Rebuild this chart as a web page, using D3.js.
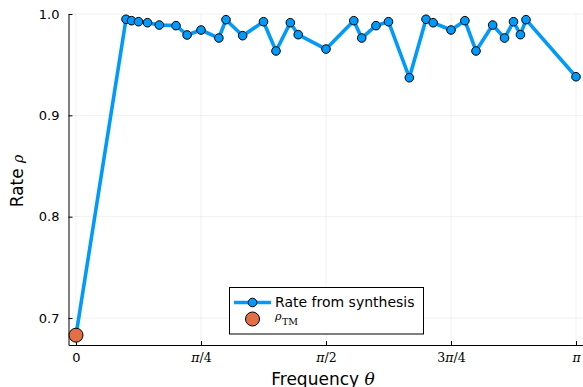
<!DOCTYPE html>
<html>
<head>
<meta charset="utf-8">
<script src="https://cdn.jsdelivr.net/npm/d3@7"></script>
<style>
html,body{margin:0;padding:0;background:#fff;}
svg{display:block;}
</style>
</head>
<body>
<svg id="chart" width="583" height="387"></svg>
<script>
// Frequency θ in units of π
const thetaOverPi = [0, 0.1, 0.1111, 0.125, 0.1429, 0.1667, 0.2, 0.2222, 0.25, 0.2857, 0.3, 0.3333, 0.375, 0.4, 0.4286, 0.4444, 0.5, 0.5556, 0.5714, 0.6, 0.625, 0.6667, 0.7, 0.7143, 0.75, 0.7778, 0.8, 0.8333, 0.8571, 0.875, 0.8889, 0.9, 1.0];
const rates = [0.6831, 0.9948, 0.9934, 0.9924, 0.9914, 0.9891, 0.9885, 0.9793, 0.9842, 0.9763, 0.9944, 0.9786, 0.9924, 0.9635, 0.9914, 0.9796, 0.9654, 0.9934, 0.9763, 0.9885, 0.9924, 0.9371, 0.9948, 0.9914, 0.9842, 0.9934, 0.9635, 0.9891, 0.9763, 0.9924, 0.9796, 0.9944, 0.9381];
const rhoTM = [{x: 0, y: 0.6831}];
const xTicks = [0, 0.25, 0.5, 0.75, 1];
const xTickLabels = [["0"], ["", "π", "/4"], ["", "π", "/2"], ["3", "π", "/4"], ["", "π", ""]];
const yTicks = [0.7, 0.8, 0.9, 1.0];
const yTickLabels = ["0.7", "0.8", "0.9", "1.0"];
const seriesNames = ["Rate from synthesis", "ρ", "TM"];

const BLUE = "#009AFA", ORANGE = "#E26F46";
const SANS = "DejaVu Sans, sans-serif";
const SERIF = "DejaVu Serif, Liberation Serif, serif";

const svg = d3.select("#chart");
const L = 68.5, R = 583, T = 14, B = 345;
const x = d3.scaleLinear().domain([-0.015, 1.014]).range([L, R]);
const y = d3.scaleLinear().domain([0.6734, 1.0]).range([B, T]);

// grid
const grid = svg.append("g");
grid.selectAll(".gx").data(xTicks).join("line")
  .attr("x1", d => x(d)).attr("x2", d => x(d)).attr("y1", T).attr("y2", B)
  .attr("stroke", "#000").attr("stroke-opacity", 0.1).attr("stroke-width", 0.6);
grid.selectAll(".gy").data(yTicks).join("line")
  .attr("x1", L).attr("x2", R).attr("y1", d => y(d)).attr("y2", d => y(d))
  .attr("stroke", "#000").attr("stroke-opacity", 0.1).attr("stroke-width", 0.6);

// axes
const yAxis = d3.axisLeft(y).tickValues(yTicks).tickFormat((d, i) => yTickLabels[i]).tickSizeInner(-4).tickSizeOuter(0).tickPadding(9);
const gy = svg.append("g").attr("transform", `translate(${L},0)`).call(yAxis);
gy.select(".domain").attr("stroke", "#000").attr("stroke-width", 1);
gy.selectAll(".tick line").attr("stroke", "#000");
gy.selectAll("text").attr("font-family", SANS).attr("font-size", 13).attr("fill", "#000");

const xAxis = d3.axisBottom(x).tickValues(xTicks).tickFormat(() => "").tickSizeInner(-4).tickSizeOuter(0).tickPadding(8);
const gx = svg.append("g").attr("transform", `translate(0,${B})`).call(xAxis);
gx.select(".domain").attr("stroke", "#000").attr("stroke-width", 1);
gx.selectAll(".tick line").attr("stroke", "#000");
gx.selectAll(".tick text").remove();
gx.selectAll(".tick").each(function(d, i) {
  const parts = xTickLabels[i];
  const t = d3.select(this).append("text").attr("y", 17).attr("text-anchor", "middle").attr("fill", "#000");
  if (parts.length === 1) {
    t.attr("font-family", SANS).attr("font-size", 13).text(parts[0]);
  } else {
    t.attr("font-family", SERIF).attr("font-size", 12.5);
    if (parts[0]) t.append("tspan").text(parts[0]);
    t.append("tspan").attr("font-style", "italic").text(parts[1]);
    if (parts[2]) t.append("tspan").text(parts[2]);
  }
});

// axis titles
const xt = svg.append("text").attr("x", 323).attr("y", 384.5).attr("text-anchor", "middle")
  .attr("font-family", SANS).attr("font-size", 17).attr("fill", "#000");
xt.append("tspan").text("Frequency ");
xt.append("tspan").attr("font-family", SERIF).attr("font-style", "italic").text("θ");

const yt = svg.append("text").attr("transform", "translate(23,181) rotate(-90)").attr("text-anchor", "middle")
  .attr("font-family", SANS).attr("font-size", 17).attr("fill", "#000");
yt.append("tspan").text("Rate ");
yt.append("tspan").attr("font-family", SERIF).attr("font-style", "italic").attr("font-size", 14).text("ρ");

// data line
const pts = thetaOverPi.map((t, i) => ({x: t, y: rates[i]}));
const line = d3.line().x(d => x(d.x)).y(d => y(d.y));
svg.append("path").datum(pts).attr("d", line).attr("fill", "none")
  .attr("stroke", BLUE).attr("stroke-width", 3.6).attr("stroke-linejoin", "round");
svg.selectAll(".pt").data(pts).join("circle")
  .attr("cx", d => x(d.x)).attr("cy", d => y(d.y)).attr("r", 4.3)
  .attr("fill", BLUE).attr("stroke", "#000").attr("stroke-width", 1);
svg.selectAll(".tm").data(rhoTM).join("circle")
  .attr("cx", d => x(d.x)).attr("cy", d => y(d.y)).attr("r", 7)
  .attr("fill", ORANGE).attr("stroke", "#000").attr("stroke-width", 1);

// legend
const lg = svg.append("g");
lg.append("rect").attr("x", 229.5).attr("y", 287.5).attr("width", 194).attr("height", 46.5)
  .attr("fill", "#fff").attr("stroke", "#000").attr("stroke-width", 1);
lg.append("line").attr("x1", 234).attr("x2", 271).attr("y1", 302.5).attr("y2", 302.5)
  .attr("stroke", BLUE).attr("stroke-width", 3.6);
lg.append("circle").attr("cx", 252.5).attr("cy", 302.5).attr("r", 4.3)
  .attr("fill", BLUE).attr("stroke", "#000").attr("stroke-width", 1);
lg.append("text").attr("x", 275).attr("y", 306.5).attr("font-family", SANS).attr("font-size", 14).attr("fill", "#000")
  .text(seriesNames[0]);
lg.append("circle").attr("cx", 252.5).attr("cy", 319).attr("r", 7)
  .attr("fill", ORANGE).attr("stroke", "#000").attr("stroke-width", 1);
const lt = lg.append("text").attr("x", 275).attr("y", 319.5).attr("font-family", SERIF).attr("fill", "#000");
lt.append("tspan").attr("font-style", "italic").attr("font-size", 11).text(seriesNames[1]);
lt.append("tspan").attr("font-size", 9.5).attr("dy", 5).attr("dx", 0.5).text(seriesNames[2]);
</script>
</body>
</html>
